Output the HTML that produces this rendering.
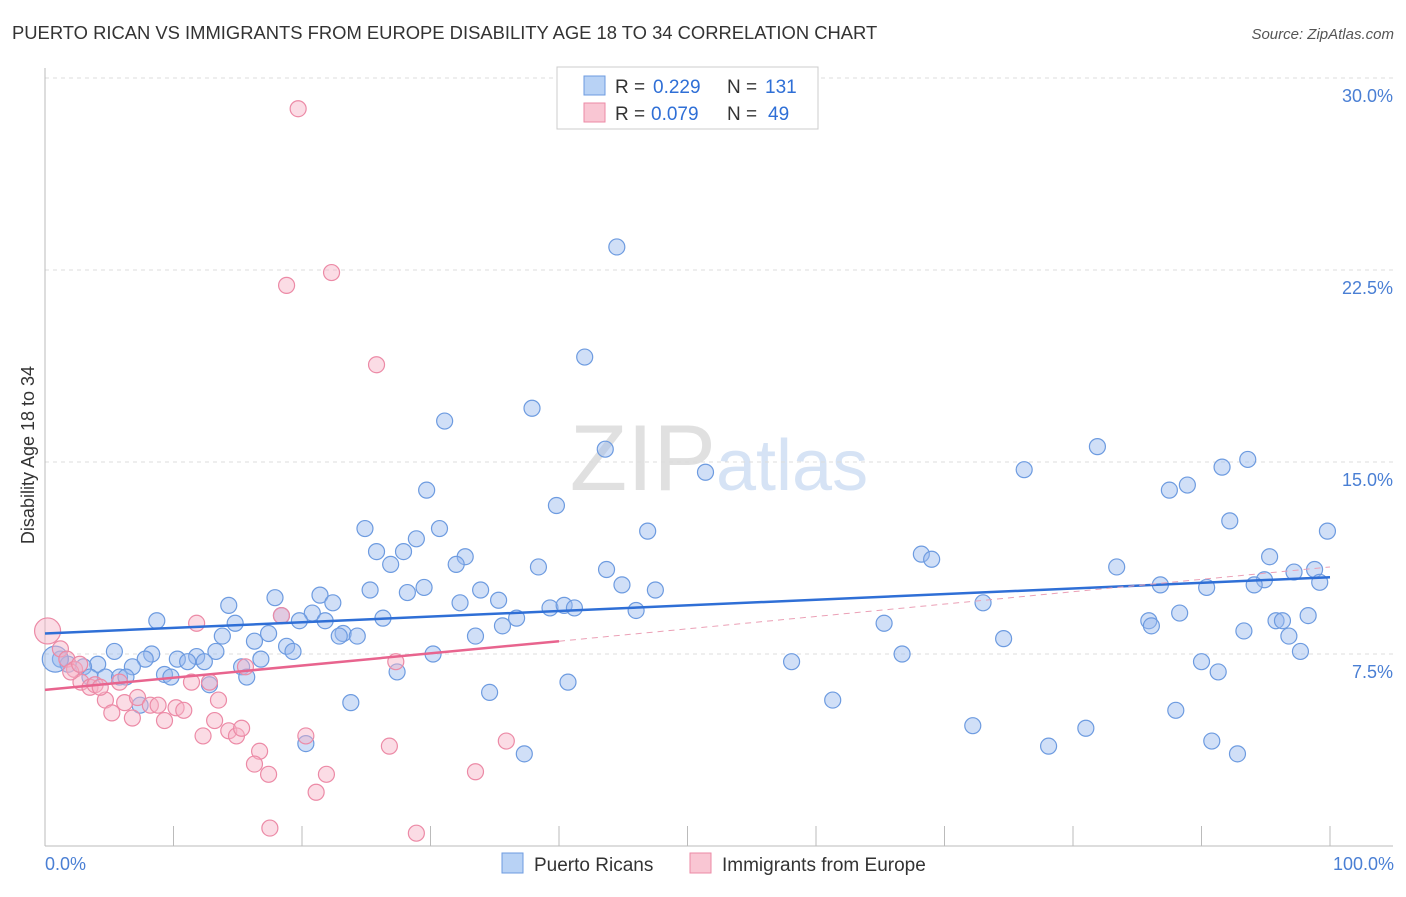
<!DOCTYPE html>
<html><head><meta charset="utf-8"><style>
body{margin:0;background:#fff;font-family:"Liberation Sans",sans-serif;}
svg text{font-family:"Liberation Sans",sans-serif;}
</style></head><body>
<svg id="c" width="1406" height="892" xmlns="http://www.w3.org/2000/svg">
<text x="12" y="39" font-size="18.4" fill="#333">PUERTO RICAN VS IMMIGRANTS FROM EUROPE DISABILITY AGE 18 TO 34 CORRELATION CHART</text>
<text x="1394" y="39" font-size="15" fill="#555" font-style="italic" text-anchor="end">Source: ZipAtlas.com</text>
<text x="716" y="490" font-size="94" fill="#e0e0e0" text-anchor="end" font-family="Liberation Serif">ZIP</text>
<text x="716" y="490" font-size="72" fill="#d6e3f5">atlas</text>
<g id="grid"></g><g id="axes"></g><g id="pts"></g><g id="trend"></g>
<text x="34" y="455" font-size="18" fill="#333" text-anchor="middle" transform="rotate(-90 34 455)">Disability Age 18 to 34</text>
<text x="45" y="870" font-size="18" fill="#4a7fd4">0.0%</text>
<text x="1394" y="870" font-size="18" fill="#4a7fd4" text-anchor="end">100.0%</text>
<g>
<rect x="557" y="67" width="261" height="62" fill="#fff" stroke="#ccc"/>
<rect x="584" y="76" width="21" height="19" fill="#b8d2f5" stroke="#6d9be0"/>
<rect x="584" y="103" width="21" height="19" fill="#f9c6d3" stroke="#ec8aa6"/>
<text x="615" y="93" font-size="19" fill="#333">R =</text>
<text x="653" y="93" font-size="19" fill="#2f6fd6">0.229</text>
<text x="727" y="93" font-size="19" fill="#333">N =</text>
<text x="765" y="93" font-size="19" fill="#2f6fd6">131</text>
<text x="615" y="120" font-size="19" fill="#333">R =</text>
<text x="651" y="120" font-size="19" fill="#2f6fd6">0.079</text>
<text x="727" y="120" font-size="19" fill="#333">N =</text>
<text x="768" y="120" font-size="19" fill="#2f6fd6">49</text>
</g>
<g>
<rect x="502" y="853" width="21" height="20" fill="#b8d2f5" stroke="#6d9be0"/>
<text x="534" y="871" font-size="19" fill="#333">Puerto Ricans</text>
<rect x="690" y="853" width="21" height="20" fill="#f9c6d3" stroke="#ec8aa6"/>
<text x="722" y="871" font-size="19" fill="#333">Immigrants from Europe</text>
</g>
</svg>
<script>
const yTicks=[7.5,15,22.5,30];
const yTickLabels=["7.5%","15.0%","22.5%","30.0%"];
const xTicks=[0,10,20,30,40,50,60,70,80,90,100];
const blueX=[44.5,42.0,37.9,31.1,43.6,51.4,81.9,76.2,93.6,91.6,88.9,87.5,92.2,99.8,29.7,39.8,46.9,24.9,30.7,28.9,25.8,27.9,32.7,32.0,26.9,38.4,43.7,68.2,69.0,95.3,83.4,98.8,97.2,94.9,94.1,99.2,86.8,90.4,44.9,47.5,33.9,29.5,25.3,28.2,17.9,21.4,35.3,22.4,32.3,14.3,39.3,40.4,41.2,46.0,73.0,88.3,98.3,18.4,20.8,8.7,14.8,19.8,21.8,26.3,36.7,35.6,65.3,85.9,86.1,95.8,96.3,93.3,96.8,23.2,22.9,24.3,17.4,13.8,33.5,74.6,16.3,18.8,19.3,5.4,8.3,13.3,30.2,16.8,66.7,97.7,7.8,10.3,11.8,11.1,12.4,90.0,58.1,1.2,1.8,4.1,6.8,15.3,3.0,91.3,27.4,9.3,9.8,3.5,4.7,5.8,6.3,15.7,12.8,40.7,34.6,23.8,61.3,88.0,72.2,81.0,78.1,90.8,92.8,37.3,20.3,7.4,0.8];
const blueY=[23.4,19.1,17.1,16.6,15.5,14.6,15.6,14.7,15.1,14.8,14.1,13.9,12.7,12.3,13.9,13.3,12.3,12.4,12.4,12.0,11.5,11.5,11.3,11.0,11.0,10.9,10.8,11.4,11.2,11.3,10.9,10.8,10.7,10.4,10.2,10.3,10.2,10.1,10.2,10.0,10.0,10.1,10.0,9.9,9.7,9.8,9.6,9.5,9.5,9.4,9.3,9.4,9.3,9.2,9.5,9.1,9.0,9.0,9.1,8.8,8.7,8.8,8.8,8.9,8.9,8.6,8.7,8.8,8.6,8.8,8.8,8.4,8.2,8.3,8.2,8.2,8.3,8.2,8.2,8.1,8.0,7.8,7.6,7.6,7.5,7.6,7.5,7.3,7.5,7.6,7.3,7.3,7.4,7.2,7.2,7.2,7.2,7.3,7.1,7.1,7.0,7.0,7.0,6.8,6.8,6.7,6.6,6.6,6.6,6.6,6.6,6.6,6.3,6.4,6.0,5.6,5.7,5.3,4.7,4.6,3.9,4.1,3.6,3.6,4.0,5.5,7.3];
const pinkX=[19.7,18.8,22.3,25.8,11.8,18.4,0.2,1.2,1.7,2.3,2.8,3.5,3.9,5.8,4.7,6.2,7.2,5.2,6.8,8.2,8.8,10.2,10.8,9.3,11.4,12.8,13.5,13.2,12.3,14.3,14.9,15.3,15.6,16.7,16.3,17.4,17.5,20.3,21.9,21.1,27.3,26.8,28.9,33.5,35.9,2.0,4.3,2.7];
const pinkY=[28.8,21.9,22.4,18.8,8.7,9.0,8.4,7.7,7.3,6.9,6.4,6.2,6.3,6.4,5.7,5.6,5.8,5.2,5.0,5.5,5.5,5.4,5.3,4.9,6.4,6.4,5.7,4.9,4.3,4.5,4.3,4.6,7.0,3.7,3.2,2.8,0.7,4.3,2.8,2.1,7.2,3.9,0.5,2.9,4.1,6.8,6.2,7.1];
const blueTrend=[[0,8.3],[100,10.5]];
const pinkTrendSolid=[[0,6.1],[40,8.0]];
const pinkTrendDash=[[40,8.0],[100,10.9]];
const NS="http://www.w3.org/2000/svg";
const sx=v=>45+v*12.85, sy=v=>846-v*25.6;
function mk(tag,attrs,parent){const e=document.createElementNS(NS,tag);for(const k in attrs)e.setAttribute(k,attrs[k]);document.getElementById(parent).appendChild(e);return e;}
yTicks.forEach((t,i)=>{
 const l=mk('line',{x1:45,x2:1393,y1:sy(t),y2:sy(t),stroke:'#dcdcdc','stroke-dasharray':'4,4'},'grid');
 
 
 const tx=mk('text',{x:1393,y:sy(t)+24,'font-size':18,fill:'#4a7fd4','text-anchor':'end'},'grid');
 tx.textContent=yTickLabels[i];
 
 
});
const ax=mk('line',{x1:45,x2:1393,y1:846,y2:846,stroke:'#bbb'},'axes');


const ay=mk('line',{x1:45,x2:45,y1:68,y2:846,stroke:'#bbb'},'axes');


xTicks.forEach(t=>{
 const l=mk('line',{x1:sx(t),x2:sx(t),y1:826,y2:846,stroke:'#bbb'},'axes');
 
 
});
blueX.forEach((x,i)=>{
 const c=mk('circle',{cx:sx(x),cy:sy(blueY[i]),r:(i===blueX.length-1)?13:8,fill:'rgba(150,185,238,0.45)',stroke:'#6d9be0','stroke-width':1.2},'pts');
 
 
});
pinkX.forEach((x,i)=>{
 const c=mk('circle',{cx:sx(x),cy:sy(pinkY[i]),r:(i===6)?13:8,fill:'rgba(246,178,198,0.45)',stroke:'#ec8aa6','stroke-width':1.2},'pts');
 
 
});
function line(p,st,dash,name){const l=mk('line',{x1:sx(p[0][0]),y1:sy(p[0][1]),x2:sx(p[1][0]),y2:sy(p[1][1]),stroke:st,'stroke-width':dash?1:2.5},'trend');if(dash)l.setAttribute('stroke-dasharray','6,5');
 
 }
line(blueTrend,'#2f6fd6',false,'puerto-rican-trendline');
line(pinkTrendSolid,'#e8648e',false,'immigrants-europe-trendline');
line(pinkTrendDash,'#eba0b6',true,'immigrants-europe-trendline-extension');
</script>
</body></html>
